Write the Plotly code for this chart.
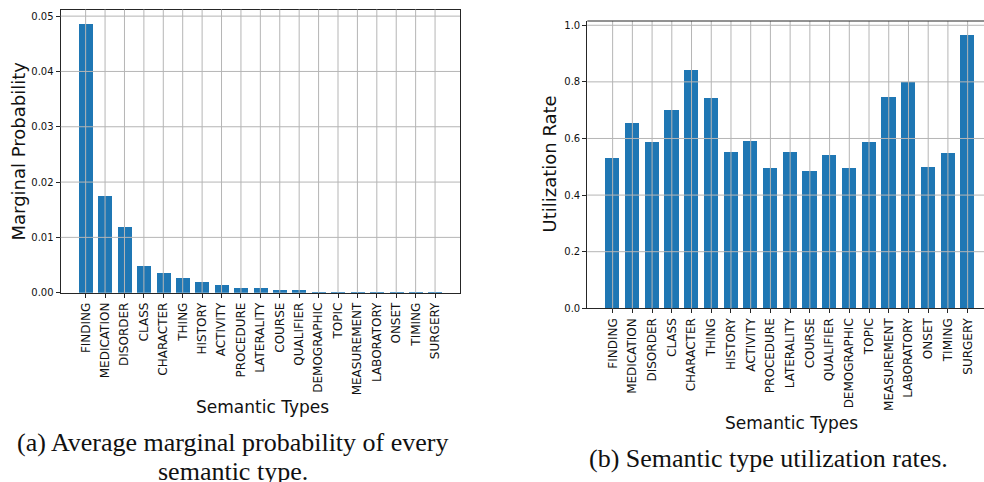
import plotly.graph_objects as go

W, H = 984, 482

categories = ["FINDING", "MEDICATION", "DISORDER", "CLASS", "CHARACTER", "THING",
              "HISTORY", "ACTIVITY", "PROCEDURE", "LATERALITY", "COURSE", "QUALIFIER",
              "DEMOGRAPHIC", "TOPIC", "MEASUREMENT", "LABORATORY", "ONSET", "TIMING", "SURGERY"]

marginal_prob = [0.04875, 0.01765, 0.01205, 0.0050, 0.0037, 0.0027,
                 0.0021, 0.0014, 0.0009, 0.0009, 0.0005, 0.0005,
                 0.0003, 0.0003, 0.0003, 0.0001, 0.0001, 0.0001, 0.0001]

utilization = [0.531, 0.655, 0.588, 0.701, 0.842, 0.743,
               0.552, 0.591, 0.496, 0.552, 0.485, 0.542,
               0.496, 0.588, 0.747, 0.799, 0.499, 0.549, 0.966]

left_ticks = [0.00, 0.01, 0.02, 0.03, 0.04, 0.05]
right_ticks = [0.0, 0.2, 0.4, 0.6, 0.8, 1.0]

ylabel_left = "Marginal Probability"
ylabel_right = "Utilization Rate"
xlabel = "Semantic Types"
caption_a = ["(a) Average marginal probability of every", "semantic type."]
caption_b = "(b) Semantic type utilization rates."

BAR = "#1f77b4"
GRID = "#b5b5b5"
SPINE = "#262626"
SANS = "DejaVu Sans"
SERIF = "Liberation Serif, Times New Roman, serif"


def px(x):
    return x / W


def py(y):
    return 1 - y / H


fig = go.Figure()
fig.add_trace(go.Bar(x=categories, y=marginal_prob, marker=dict(color=BAR, line=dict(width=0)),
                     width=0.72, xaxis="x", yaxis="y", showlegend=False))
fig.add_trace(go.Bar(x=categories, y=utilization, marker=dict(color=BAR, line=dict(width=0)),
                     width=0.72, xaxis="x2", yaxis="y2", showlegend=False))

common_x = dict(type="category", tickangle=-90, showgrid=False, zeroline=False, automargin=False,
                ticks="outside", ticklen=4, tickcolor=SPINE, showline=True,
                linecolor=SPINE, linewidth=1.2, tickfont=dict(family=SANS, size=12, color="#111"))
common_y = dict(showgrid=False, zeroline=False, ticks="outside", ticklen=4, tickcolor=SPINE,
                showline=True, linecolor=SPINE, linewidth=1.2, automargin=False,
                tickfont=dict(family=SANS, size=10, color="#111"))

fig.update_layout(
    width=W, height=H,
    margin=dict(l=0, r=0, t=0, b=0, autoexpand=False),
    paper_bgcolor="white", plot_bgcolor="white",
    font=dict(family=SANS),
    bargap=0,
    xaxis=dict(common_x, domain=[px(60.7), px(460)], range=[-1.285, 19.285], mirror=True,
               anchor="y"),
    yaxis=dict(common_y, domain=[py(292.7), py(9.5)], range=[0, 0.0512], tickvals=left_ticks,
               tickformat=".2f", mirror=True, anchor="x"),
    xaxis2=dict(common_x, domain=[px(587.3), 1.0], range=[-1.285, 18.83], anchor="y2"),
    yaxis2=dict(common_y, domain=[py(308.3), py(21)], range=[0, 1.015], tickvals=right_ticks,
                tickformat=".1f", anchor="x2"),
)

shapes = []
# grid lines drawn above bars (as in the reference)
for c in categories:
    shapes.append(dict(type="line", xref="x", yref="y domain", x0=c, x1=c, y0=0, y1=1,
                       line=dict(color=GRID, width=1), layer="above"))
    shapes.append(dict(type="line", xref="x2", yref="y2 domain", x0=c, x1=c, y0=0, y1=1,
                       line=dict(color=GRID, width=1), layer="above"))
for t in left_ticks[1:]:
    shapes.append(dict(type="line", xref="x domain", yref="y", x0=0, x1=1, y0=t, y1=t,
                       line=dict(color=GRID, width=1), layer="above"))
for t in right_ticks[1:]:
    shapes.append(dict(type="line", xref="x2 domain", yref="y2", x0=0, x1=1, y0=t, y1=t,
                       line=dict(color=GRID, width=1), layer="above"))
# top spine of right panel
shapes.append(dict(type="line", xref="x2 domain", yref="y2 domain", x0=0, x1=1, y0=1, y1=1,
                   line=dict(color=SPINE, width=1.2), layer="above"))
fig.update_layout(shapes=shapes)

ann = []
ann.append(dict(text=ylabel_left, x=px(17.5), y=py(151), textangle=-90,
                font=dict(family=SANS, size=18, color="#111")))
ann.append(dict(text=ylabel_right, x=px(549), y=py(164.5), textangle=-90,
                font=dict(family=SANS, size=18, color="#111")))
ann.append(dict(text=xlabel, x=px(262), y=py(406.5),
                font=dict(family=SANS, size=17, color="#111")))
ann.append(dict(text=xlabel, x=px(791), y=py(423.3),
                font=dict(family=SANS, size=17, color="#111")))
ann.append(dict(text=caption_a[0], x=px(232.5), y=py(442),
                font=dict(family=SERIF, size=26, color="#111")))
ann.append(dict(text=caption_a[1], x=px(232.5), y=py(471),
                font=dict(family=SERIF, size=26, color="#111")))
ann.append(dict(text=caption_b, x=px(768.5), y=py(458),
                font=dict(family=SERIF, size=26, color="#111")))
for a in ann:
    a.update(xref="paper", yref="paper", showarrow=False, xanchor="center", yanchor="middle")
fig.update_layout(annotations=ann)

fig.write_html("out.html", config={"displayModeBar": False},
               post_script="document.body.style.margin='0';document.body.style.overflow='hidden';")
